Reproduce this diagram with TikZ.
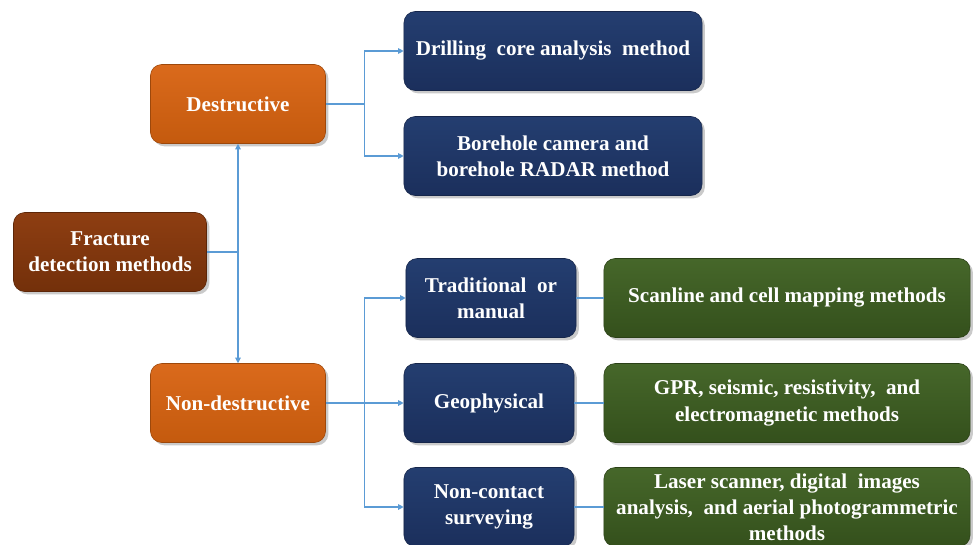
\documentclass[tikz,border=0pt]{standalone}
\usepackage{fontspec}
\setmainfont{Liberation Serif}
\usetikzlibrary{arrows.meta, positioning, shadows}
\definecolor{rootbrown}{RGB}{142, 62, 18}
\definecolor{rootbrowndark}{RGB}{115, 48, 10}
\definecolor{catorange}{RGB}{218, 106, 28}
\definecolor{catorangedark}{RGB}{196, 90, 14}
\definecolor{subnavy}{RGB}{36, 62, 112}
\definecolor{subnavydark}{RGB}{27, 47, 92}
\definecolor{leafgreen}{RGB}{70, 103, 42}
\definecolor{leafgreendark}{RGB}{52, 80, 28}
\definecolor{linkblue}{RGB}{91, 155, 213}
\tikzset{
    % Common box look
    basebox/.style={
        rounded corners=8pt,
        minimum height=1.975cm,
        inner sep=3pt,
        align=center,
        text=white,
        font=\fontsize{15}{18.5}\selectfont\bfseries,
        drop shadow={shadow xshift=2pt, shadow yshift=-2pt, opacity=0.35, fill=black!60},
    },
    % Root box
    rootbox/.style={
        basebox,
        draw=rootbrowndark!80!black, thin,
        top color=rootbrown, bottom color=rootbrowndark,
        minimum width=#1,
    },
    % Category box (destructive / non-destructive)
    catbox/.style={
        basebox,
        draw=catorangedark!80!black, thin,
        top color=catorange, bottom color=catorangedark,
        minimum width=#1,
    },
    % Method box
    subbox/.style={
        basebox,
        draw=subnavydark!80!black, thin,
        top color=subnavy, bottom color=subnavydark,
        minimum width=#1,
    },
    % Technique box
    leafbox/.style={
        basebox,
        draw=leafgreendark!80!black, thin,
        top color=leafgreen, bottom color=leafgreendark,
        minimum width=#1,
    },
    % Connector with arrow
    arrowlink/.style={
        -{Triangle[length=4pt, width=4pt]},
        line width=0.8pt,
        linkblue,
    },
    % Plain connector
    plainlink/.style={
        line width=0.8pt,
        linkblue,
    },
}

\begin{document}
\begin{tikzpicture}[x=0.025cm, y=-0.025cm]

\useasboundingbox (0,0) rectangle (973,545);

% =========================================================================
% Root and categories
% =========================================================================
\node[rootbox=4.825cm] (frac) at (110,252) {Fracture\\detection methods};
\node[catbox=4.375cm] (dest) at (238,104) {Destructive};
\node[catbox=4.375cm] (nondest) at (238,403) {Non-destructive};

% =========================================================================
% Destructive methods
% =========================================================================
\node[subbox=7.45cm] (drill) at (553,51) {Drilling\ \ core analysis\ \ method};
\node[subbox=7.45cm] (bore) at (553,156) {Borehole camera and\\borehole RADAR method};

% =========================================================================
% Non-destructive methods
% =========================================================================
\node[subbox=4.25cm] (trad) at (491,298) {Traditional\ \ or\\manual};
\node[subbox=4.25cm] (geo) at (489,403) {Geophysical};
\node[subbox=4.25cm] (noncont) at (489,507) {Non-contact\\surveying};

% =========================================================================
% Techniques
% =========================================================================
\node[leafbox=9.15cm] (scan) at (787,298) {Scanline and cell mapping methods};
\node[leafbox=9.15cm] (gpr) at (787,403) {GPR, seismic, resistivity,\ \ and\\electromagnetic methods};
\node[leafbox=9.15cm] (laser) at (787,507) {Laser scanner, digital\ \ images\\analysis,\ \ and aerial photogrammetric\\methods};

% =========================================================================
% CONNECTORS
% =========================================================================
\coordinate (fjoin) at (238,252);
\draw[plainlink] (frac.east) -- (fjoin);
\draw[arrowlink] (fjoin) -- (dest.south);
\draw[arrowlink] (fjoin) -- (nondest.north);

\draw[arrowlink] (dest.east) -- ++(39,0) |- (drill.west);
\draw[arrowlink] (dest.east) -- ++(39,0) |- (bore.west);

\draw[arrowlink] (nondest.east) -- ++(39,0) |- (trad.west);
\draw[arrowlink] (nondest.east) -- (geo.west);
\draw[arrowlink] (nondest.east) -- ++(39,0) |- (noncont.west);

\draw[plainlink] (trad.east) -- (scan.west);
\draw[plainlink] (geo.east) -- (gpr.west);
\draw[plainlink] (noncont.east) -- (laser.west);

\end{tikzpicture}
\end{document}
